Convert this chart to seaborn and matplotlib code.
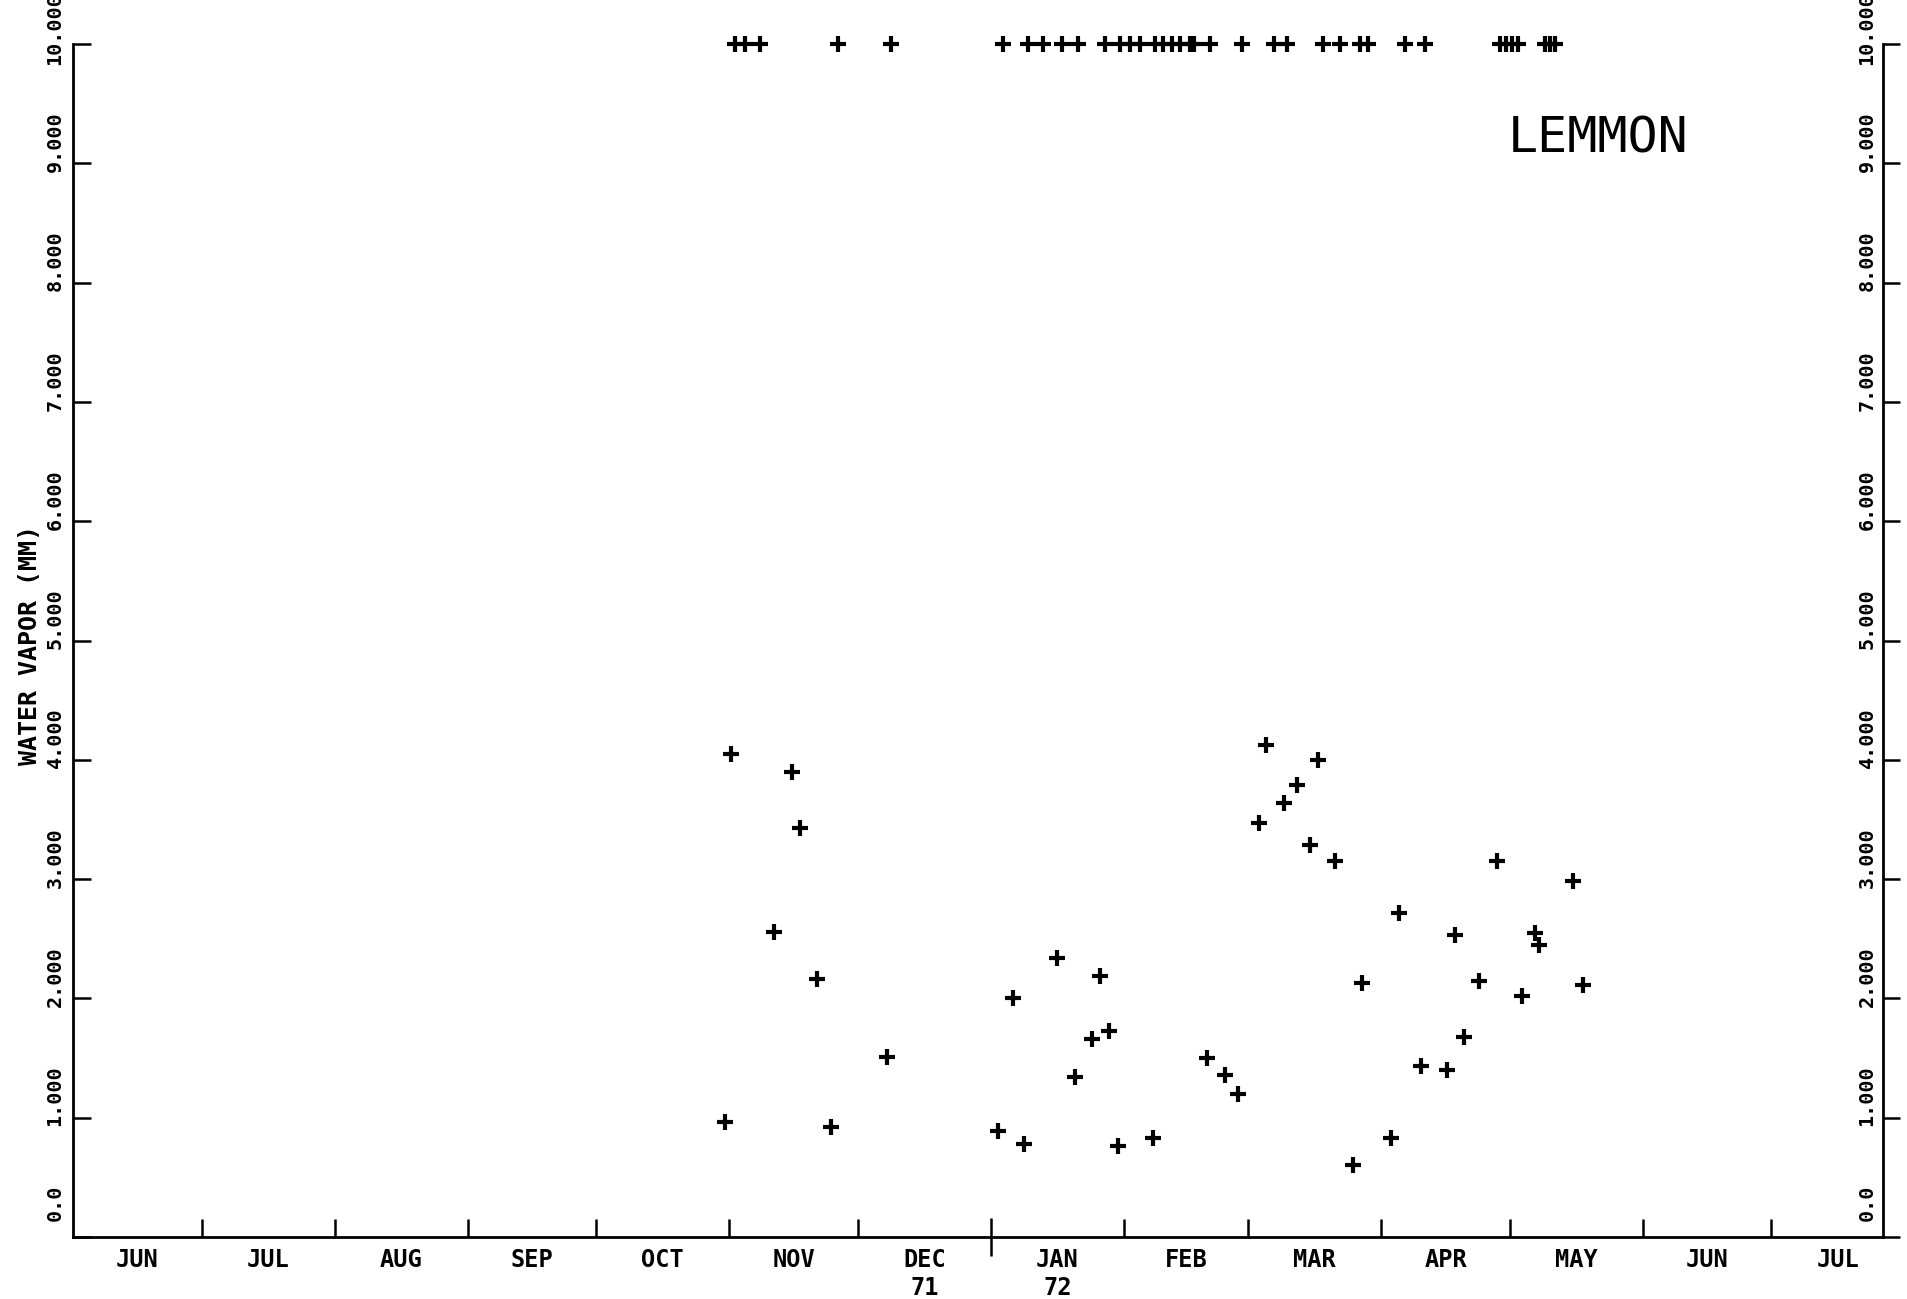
import numpy as np
import pandas as pd
import matplotlib
matplotlib.use('Agg')
import matplotlib.pyplot as plt
from matplotlib.transforms import blended_transform_factory, offset_copy
import seaborn as sns

# days counted from 1 Jun 1971
days = [
    # values pinned at the 10.0 ceiling
    154.4, 156.7, 160.2, 178.4, 190.6, 216.8, 222.7, 226.2, 230.5, 234.4,
    240.6, 244.1, 246.5, 248.8, 252.3, 254.2, 256.2, 258.1, 260.5, 261.4,
    265.1, 272.5, 279.9, 283.0, 291.4, 295.4, 300.1, 302.0, 310.6, 315.3,
    332.7, 334.1, 335.5, 336.9, 343.2, 344.4, 345.5,
    # measured values
    153.4, 167.6, 169.4, 163.4, 173.5, 189.8, 151.9, 176.7,
    229.5, 239.5, 219.2, 241.6, 237.5, 233.6, 215.6, 221.7, 243.7,
    251.9, 264.3, 268.7, 271.7,
    278.2, 290.3, 285.3, 282.3, 276.4, 288.3, 294.2, 331.9, 349.8, 309.2,
    322.1, 340.9, 341.9, 300.5, 327.9, 352.0, 337.8, 324.3, 314.2, 320.3,
    307.3, 298.5,
]
vapor = [
    10.0, 10.0, 10.0, 10.0, 10.0, 10.0, 10.0, 10.0, 10.0, 10.0,
    10.0, 10.0, 10.0, 10.0, 10.0, 10.0, 10.0, 10.0, 10.0, 10.0,
    10.0, 10.0, 10.0, 10.0, 10.0, 10.0, 10.0, 10.0, 10.0, 10.0,
    10.0, 10.0, 10.0, 10.0, 10.0, 10.0, 10.0,
    4.05, 3.90, 3.43, 2.56, 2.16, 1.51, 0.96, 0.92,
    2.34, 2.19, 2.00, 1.73, 1.66, 1.34, 0.89, 0.78, 0.76,
    0.83, 1.50, 1.36, 1.20,
    4.12, 4.00, 3.79, 3.64, 3.47, 3.29, 3.15, 3.15, 2.98, 2.72,
    2.53, 2.55, 2.45, 2.13, 2.15, 2.11, 2.02, 1.68, 1.43, 1.40,
    0.83, 0.60,
]

month_names = ['JUN', 'JUL', 'AUG', 'SEP', 'OCT', 'NOV', 'DEC\n71',
               'JAN\n72', 'FEB', 'MAR', 'APR', 'MAY', 'JUN', 'JUL']
ytick_vals = [0, 1, 2, 3, 4, 5, 6, 7, 8, 9, 10]
ytick_labels = ['0.0', '1.000', '2.000', '3.000', '4.000', '5.000',
                '6.000', '7.000', '8.000', '9.000', '10.000']
station = 'LEMMON'

start = pd.Timestamp('1971-06-01')
month_starts = pd.date_range('1971-06-01', '1972-08-01', freq='MS')
bounds = np.array((month_starts - start).days, dtype=float)
year_change = float((pd.Timestamp('1972-01-01') - start).days)
x_end = 422

sns.set_style('ticks')
plt.rcParams['font.family'] = ['DejaVu Sans Mono', 'DejaVu Sans']
plt.rcParams['text.color'] = 'black'
plt.rcParams['axes.labelcolor'] = 'black'
plt.rcParams['xtick.color'] = 'black'
plt.rcParams['ytick.color'] = 'black'

fig = plt.figure(figsize=(19.08, 12.99), dpi=100)
ax = fig.add_axes([73 / 1908, 1 - 1237 / 1299, 1810 / 1908, 1193 / 1299])

df = pd.DataFrame({'day': days, 'vapor': vapor})
sns.scatterplot(data=df, x='day', y='vapor', marker='+', s=130, color='black',
                linewidth=3.0, ax=ax, legend=False, clip_on=False, zorder=5)

ax.set_xlim(0, x_end)
ax.set_ylim(0, 10)
ax.set_xlabel('')

for side in ['top', 'right']:
    ax.spines[side].set_visible(False)
for side in ['left', 'bottom']:
    ax.spines[side].set_linewidth(2.0)
    ax.spines[side].set_color('black')

# month boundaries as ticks, labels in the middle of each month
inner = bounds[(bounds > 0) & (bounds < x_end)]
mids = (bounds[:-1] + bounds[1:]) / 2
ax.set_xticks(inner)
ax.set_xticklabels([''] * len(inner))
ax.set_xticks(mids, minor=True)
ax.set_xticklabels(month_names, minor=True, fontsize=17, fontweight='bold')
ax.tick_params(axis='x', which='major', direction='in', length=13, width=1.8)
ax.tick_params(axis='x', which='minor', length=0, pad=8)

# the year change tick goes through the axis
jan_idx = int(np.where(inner == year_change)[0][0])
jt = ax.xaxis.get_major_ticks()[jan_idx]
jt.tick1line.set_marker('|')
jt.tick1line.set_markersize(27)

ax.set_yticks(ytick_vals)
ax.tick_params(axis='y', direction='in', length=13, width=1.8, labelleft=False)

ax2 = ax.twinx()
ax2.set_ylim(0, 10)
ax2.set_yticks(ytick_vals)
ax2.tick_params(axis='y', direction='out', length=12, width=1.8,
                labelright=False)
for side in ['top', 'left', 'bottom']:
    ax2.spines[side].set_visible(False)
ax2.spines['right'].set_linewidth(2.0)
ax2.spines['right'].set_color('black')

# rotated tick labels, the left ones outside, the right ones inside the frame
blend = blended_transform_factory(ax.transAxes, ax.transData)
left_tr = offset_copy(blend, fig=fig, x=-18, y=52, units='dots')
right_tr = offset_copy(blend, fig=fig, x=-16, y=52, units='dots')
for v, lab in zip(ytick_vals, ytick_labels):
    ax.text(0, v, lab, transform=left_tr, rotation=90, ha='center', va='top',
            fontsize=14.5, fontweight='bold', clip_on=False)
    ax.text(1, v, lab, transform=right_tr, rotation=90, ha='center', va='top',
            fontsize=14.5, fontweight='bold', clip_on=False)

ax.set_ylabel('WATER VAPOR (MM)', fontsize=18, fontweight='bold')
ax.yaxis.set_label_coords(-43 / 1810, (1237 - 645) / 1193)
ax.yaxis.label.set_verticalalignment('center')

ax.text(0.8425, 0.9204, station, transform=ax.transAxes, ha='center',
        va='center', fontsize=36)

fig.savefig('out.png', dpi=100, facecolor='white')
